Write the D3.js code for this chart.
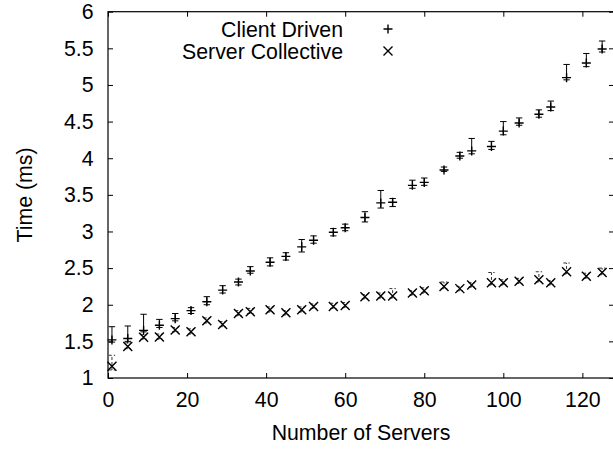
<!DOCTYPE html>
<html>
<head>
<meta charset="utf-8">
<script src="https://cdn.jsdelivr.net/npm/d3@7"></script>
<style>
  html, body { margin: 0; padding: 0; background: #fff; }
  svg { display: block; font-family: "Liberation Sans", Arial, Helvetica, sans-serif; }
</style>
</head>
<body>
<svg id="chart" width="613" height="450"></svg>
<script>
// Number of servers at each measurement
const servers = [1, 5, 9, 13, 17, 21, 25, 29, 33, 36, 41, 45, 49, 52, 57, 60,
                 65, 69, 72, 77, 80, 85, 89, 92, 97, 100, 104, 109, 112, 116, 121, 125];

// Client Driven: mean time (ms) with min / max
const clientMean = [1.52, 1.54, 1.65, 1.72, 1.81, 1.92, 2.04, 2.20, 2.31, 2.46, 2.58, 2.66, 2.79, 2.88, 2.99, 3.05,
                    3.19, 3.39, 3.40, 3.63, 3.67, 3.84, 4.03, 4.10, 4.16, 4.37, 4.48, 4.60, 4.70, 5.10, 5.30, 5.49];
const clientLow  = [1.49, 1.50, 1.63, 1.69, 1.78, 1.88, 2.00, 2.16, 2.27, 2.43, 2.53, 2.61, 2.72, 2.84, 2.94, 3.01,
                    3.13, 3.32, 3.34, 3.59, 3.63, 3.82, 4.00, 4.06, 4.12, 4.32, 4.45, 4.56, 4.65, 5.07, 5.25, 5.45];
const clientHigh = [1.70, 1.71, 1.87, 1.80, 1.88, 1.96, 2.11, 2.26, 2.35, 2.52, 2.64, 2.71, 2.89, 2.94, 3.04, 3.10,
                    3.27, 3.56, 3.45, 3.70, 3.73, 3.88, 4.08, 4.27, 4.23, 4.50, 4.55, 4.66, 4.78, 5.28, 5.43, 5.60];

// Server Collective: mean time (ms) with min / max
const serverMean = [1.16, 1.43, 1.555, 1.56, 1.655, 1.63, 1.78, 1.73, 1.88, 1.905, 1.93, 1.89, 1.93, 1.975, 1.975, 1.99,
                    2.11, 2.12, 2.12, 2.16, 2.19, 2.25, 2.22, 2.27, 2.30, 2.30, 2.32, 2.34, 2.30, 2.45, 2.39, 2.44];
const serverLow  = [1.11, 1.40, 1.53, 1.53, 1.63, 1.60, 1.75, 1.70, 1.85, 1.88, 1.90, 1.86, 1.90, 1.95, 1.95, 1.96,
                    2.08, 2.09, 2.09, 2.13, 2.16, 2.22, 2.19, 2.24, 2.27, 2.27, 2.29, 2.31, 2.27, 2.42, 2.36, 2.41];
const serverHigh = [1.31, 1.48, 1.59, 1.60, 1.69, 1.67, 1.82, 1.77, 1.92, 1.95, 1.97, 1.92, 1.97, 2.01, 2.02, 2.03,
                    2.14, 2.16, 2.22, 2.19, 2.23, 2.31, 2.25, 2.30, 2.44, 2.34, 2.36, 2.45, 2.33, 2.57, 2.43, 2.50];

const xTicks = [0, 20, 40, 60, 80, 100, 120];
const yTicks = [1, 1.5, 2, 2.5, 3, 3.5, 4, 4.5, 5, 5.5, 6];
const seriesNames = ["Client Driven", "Server Collective"];

const svg = d3.select("#chart");
const plotLeft = 108, plotRight = 614, plotTop = 11.7, plotBottom = 378;

const x = d3.scaleLinear().domain([0, 128]).range([plotLeft, plotRight]);
const y = d3.scaleLinear().domain([1, 6]).range([plotBottom, plotTop]);

const fontSize = 21.3;
const tickLen = 5;

// axes with inward ticks on all four sides
const gBottom = svg.append("g").attr("transform", `translate(0,${plotBottom})`)
  .call(d3.axisBottom(x).tickValues(xTicks).tickSize(-tickLen).tickPadding(14).tickFormat(d3.format("~g")));
const gTop = svg.append("g").attr("transform", `translate(0,${plotTop})`)
  .call(d3.axisTop(x).tickValues(xTicks).tickSize(-tickLen).tickFormat(""));
const gLeft = svg.append("g").attr("transform", `translate(${plotLeft},0)`)
  .call(d3.axisLeft(y).tickValues(yTicks).tickSize(-tickLen).tickPadding(14.5).tickFormat(d3.format("~g")));
const gRight = svg.append("g").attr("transform", `translate(${plotRight},0)`)
  .call(d3.axisRight(y).tickValues(yTicks).tickSize(-tickLen).tickFormat(""));

[gBottom, gTop, gLeft, gRight].forEach(g => {
  g.select(".domain").remove();
  g.selectAll(".tick line").attr("stroke", "#000").attr("stroke-width", 1);
  g.selectAll(".tick text").attr("fill", "#000").style("font-size", fontSize + "px")
    .style("font-family", '"Liberation Sans", Arial, Helvetica, sans-serif');
});

// plot frame
svg.append("rect")
  .attr("x", plotLeft).attr("y", plotTop)
  .attr("width", plotRight - plotLeft).attr("height", plotBottom - plotTop)
  .attr("fill", "none").attr("stroke", "#000").attr("stroke-width", 1.2);

// axis titles
svg.append("text")
  .attr("x", 361).attr("y", 440)
  .attr("text-anchor", "middle").style("font-size", fontSize + "px")
  .text("Number of Servers");
svg.append("text")
  .attr("transform", "translate(32,195) rotate(-90)")
  .attr("text-anchor", "middle").style("font-size", fontSize + "px")
  .text("Time (ms)");

const capW = 3.2;
const markR = 4.5;

function plusPath(cx, cy, r) {
  return `M${cx - r},${cy}H${cx + r}M${cx},${cy - r}V${cy + r}`;
}
function crossPath(cx, cy, r) {
  return `M${cx - r},${cy - r}L${cx + r},${cy + r}M${cx - r},${cy + r}L${cx + r},${cy - r}`;
}

function drawSeries(mean, low, high, marker, dash, barColor) {
  const g = svg.append("g");
  const pts = servers.map((s, i) => ({ s, m: mean[i], lo: low[i], hi: high[i] }));
  const bars = g.selectAll("path.bar").data(pts).enter().append("path")
    .attr("class", "bar")
    .attr("d", d => {
      const cx = x(d.s), y0 = y(d.lo), y1 = y(d.hi);
      return `M${cx},${y0}V${y1}M${cx - capW},${y1}H${cx + capW}M${cx - capW},${y0}H${cx + capW}`;
    })
    .attr("fill", "none").attr("stroke", barColor).attr("stroke-width", 1);
  if (dash) bars.attr("stroke-dasharray", dash);
  g.selectAll("path.mark").data(pts).enter().append("path")
    .attr("class", "mark")
    .attr("d", d => marker(x(d.s), y(d.m), markR))
    .attr("fill", "none").attr("stroke", "#000").attr("stroke-width", 1.4);
}

drawSeries(clientMean, clientLow, clientHigh, plusPath, null, "#000");
drawSeries(serverMean, serverLow, serverHigh, crossPath, "3,2", "#333");

// key
const legend = svg.append("g");
const legendRows = [
  { name: seriesNames[0], marker: plusPath, cy: 29 },
  { name: seriesNames[1], marker: crossPath, cy: 51 }
];
legendRows.forEach(r => {
  legend.append("text")
    .attr("x", 343).attr("y", r.cy + 7.5)
    .attr("text-anchor", "end").style("font-size", fontSize + "px")
    .text(r.name);
  legend.append("path")
    .attr("d", r.marker(388, r.cy, markR))
    .attr("fill", "none").attr("stroke", "#000").attr("stroke-width", 1.4);
});
</script>
</body>
</html>
